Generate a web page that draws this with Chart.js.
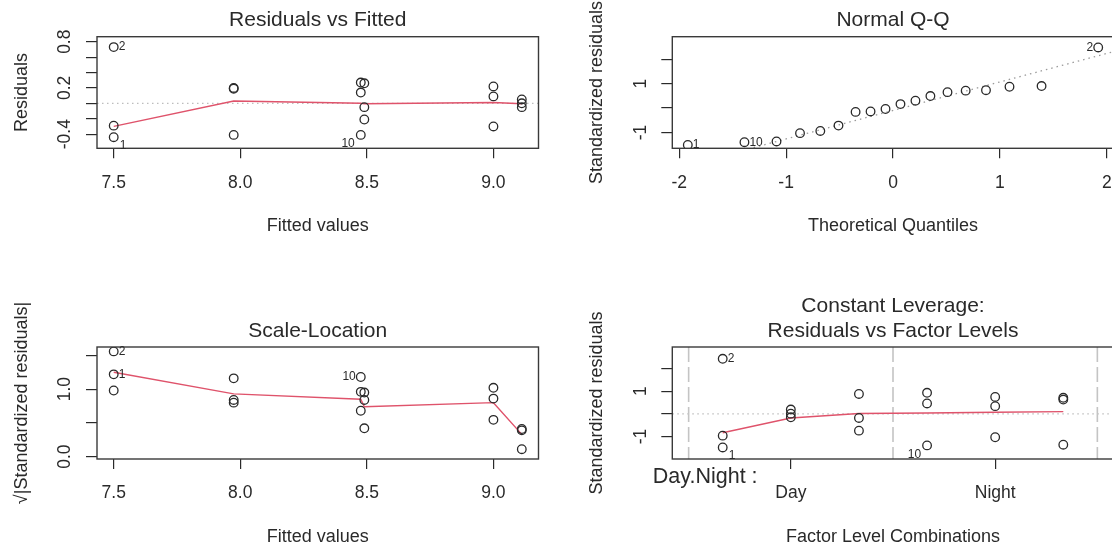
<!DOCTYPE html>
<html>
<head>
<meta charset="utf-8">
<script src="https://cdn.jsdelivr.net/npm/chart.js@4.4.1/dist/chart.umd.min.js"></script>
<style>
  html, body { margin: 0; padding: 0; background: #fff; overflow: hidden; width: 1112px; height: 550px; }
  canvas { position: absolute; }
</style>
</head>
<body>
<canvas id="resFit" width="556" height="290" style="left:0;top:0"></canvas>
<canvas id="qq" width="564" height="290" style="left:556px;top:0"></canvas>
<canvas id="scaleLoc" width="556" height="270" style="left:0;top:280px"></canvas>
<canvas id="factorLev" width="564" height="270" style="left:556px;top:280px"></canvas>
<script>
// ---- data ----
// one entry per observation (18), grouped by fitted value
const fitted = [7.5, 7.5, 7.5, 7.974, 7.974, 7.974, 8.476, 8.476, 8.476, 8.49, 8.49, 8.49, 9.0, 9.0, 9.0, 9.112, 9.112, 9.112];
const residuals = [0.73, -0.29, -0.44, 0.20, 0.19, -0.41, 0.27, 0.14, -0.41, 0.26, -0.05, -0.21, 0.22, 0.09, -0.30, 0.05, 0.00, -0.05];
const sqrtAbsStdResid = [1.56, 0.98, 1.22, 0.84, 0.80, 1.16, 0.96, 0.68, 1.18, 0.95, 0.42, 0.84, 0.86, 0.545, 1.02, 0.41, 0.11, 0.39];
const factorPos = [0, 0, 0, 5, 5, 5, 3, 3, 3, 2, 2, 2, 4, 4, 4, 1, 1, 1];
const stdResid = [2.43, -0.96, -1.48, 0.71, 0.63, -1.36, 0.93, 0.46, -1.39, 0.88, -0.18, -0.74, 0.75, 0.34, -1.03, 0.19, 0.01, -0.15];
const obsIds = [[0, '2'], [2, '1'], [8, '10']];

// smoother lines
const smoothX = [7.5, 7.974, 8.476, 8.49, 9.0, 9.112];
const smoothResid = [-0.30, 0.03, 0.0, -0.005, 0.01, -0.005];
const smoothSqrt = [1.25, 0.93, 0.85, 0.74, 0.80, 0.33];
const factorSmoothX = [0, 1, 2, 3, 4, 5];
const factorSmoothY = [-0.83, -0.18, 0.02, 0.04, 0.07, 0.10];

// normal Q-Q (sorted)
const theoQuantiles = [-1.92, -1.39, -1.09, -0.87, -0.68, -0.51, -0.35, -0.21, -0.07, 0.07, 0.21, 0.35, 0.51, 0.68, 0.87, 1.09, 1.39, 1.92];
const qqSample = [-1.51, -1.40, -1.37, -1.03, -0.94, -0.72, -0.16, -0.14, -0.04, 0.16, 0.30, 0.49, 0.65, 0.71, 0.73, 0.87, 0.90, 2.48];
const qqIds = [[0, '1'], [1, '10'], [17, '2']];
const qqLineX = [-2.1, 2.1];
const qqLineY = [-2.55, 2.35];

// axes
const fittedTicks = [7.5, 8.0, 8.5, 9.0];
const fittedTickLabels = ['7.5', '8.0', '8.5', '9.0'];
const residTicks = [-0.4, -0.2, 0, 0.2, 0.4, 0.6, 0.8];
const residTickLabels = ['-0.4', '', '', '0.2', '', '', '0.8'];
const quantTicks = [-2, -1, 0, 1, 2];
const quantTickLabels = ['-2', '-1', '0', '1', '2'];
const stdTicks = [-1, 0, 1, 2];
const stdTickLabels = ['-1', '', '1', ''];
const sqrtTicks = [0, 0.5, 1.0, 1.5];
const sqrtTickLabels = ['0.0', '', '1.0', ''];
const factorTicks = [1, 4];
const factorTickLabels = ['Day', 'Night'];
const factorDividers = [-0.5, 2.5, 5.5];

const FONT = '"Liberation Sans", Arial, Helvetica, sans-serif';
const INK = '#2a2a2a';
const RED = '#DF536B';

function zeroSize(s) {
    if (s.isHorizontal()) s.height = 0; else s.width = 0;
    s.paddingLeft = s.paddingRight = s.paddingTop = s.paddingBottom = 0;
}

// titles, axis titles, tick labels, id labels, reference lines, box
const rPlot = {
    id: 'rPlot',
    beforeDatasetsDraw(chart, args, p) {
        const ctx = chart.ctx, a = chart.chartArea;
        const sx = chart.scales.x, sy = chart.scales.y;
        ctx.save();
        ctx.lineWidth = 1.2;
        if (p.hZero) {
            ctx.strokeStyle = '#bdbdbd';
            ctx.setLineDash([1.5, 3.5]);
            const y = sy.getPixelForValue(0);
            ctx.beginPath(); ctx.moveTo(a.left, y); ctx.lineTo(a.right, y); ctx.stroke();
        }
        if (p.vLines) {
            ctx.strokeStyle = '#c4c4c4';
            ctx.lineWidth = 1.6;
            ctx.setLineDash([15, 5]);
            p.vLines.forEach(v => {
                const x = sx.getPixelForValue(v);
                ctx.beginPath(); ctx.moveTo(x, a.top); ctx.lineTo(x, a.bottom); ctx.stroke();
            });
        }
        ctx.restore();
    },
    afterDraw(chart, args, p) {
        const ctx = chart.ctx, a = chart.chartArea;
        const sx = chart.scales.x, sy = chart.scales.y;
        const cx = (a.left + a.right) / 2, cy = (a.top + a.bottom) / 2;
        ctx.save();
        // box
        ctx.strokeStyle = '#3a3a3a';
        ctx.lineWidth = 1.4;
        ctx.strokeRect(a.left, a.top, a.right - a.left, a.bottom - a.top);
        ctx.fillStyle = INK;
        // title
        ctx.textAlign = 'center';
        ctx.textBaseline = 'middle';
        ctx.font = '21px ' + FONT;
        p.title.forEach((t, i) => ctx.fillText(t, cx, a.top - 16 - (p.title.length - 1 - i) * 25));
        // x title
        ctx.font = '18px ' + FONT;
        ctx.fillText(p.xTitle, cx, a.bottom + 78);
        // y title + y tick labels (rotated like R)
        ctx.save();
        ctx.translate(a.left - 75, cy);
        ctx.rotate(-Math.PI / 2);
        ctx.fillText(p.yTitle, 0, 0);
        ctx.restore();
        ctx.font = '17.5px ' + FONT;
        p.xTicks.forEach((v, i) => {
            ctx.fillText(p.xTickLabels[i], sx.getPixelForValue(v), a.bottom + 34.5);
        });
        p.yTicks.forEach((v, i) => {
            if (!p.yTickLabels[i]) return;
            ctx.save();
            ctx.translate(a.left - 31.5, sy.getPixelForValue(v));
            ctx.rotate(-Math.PI / 2);
            ctx.fillText(p.yTickLabels[i], 0, 0);
            ctx.restore();
        });
        // point id labels
        ctx.font = '12px ' + FONT;
        p.ids.forEach(([i, txt], k) => {
            const side = p.idSides[k];
            const x = sx.getPixelForValue(p.x[i]), y = sy.getPixelForValue(p.y[i]);
            const off = { r: [5, 0, 'left'], br: [6, 8, 'left'], bl: [-6, 9, 'right'], l: [-5, 0, 'right'] }[side];
            ctx.textAlign = off[2];
            ctx.fillText(txt, x + off[0], y + off[1]);
        });
        if (p.factorName) {
            ctx.font = '21.5px ' + FONT;
            ctx.textAlign = 'left';
            ctx.fillText(p.factorName, a.left - 19.5, a.bottom + 18);
        }
        ctx.restore();
    }
};

function makePanel(id, p) {
    const datasets = [{
        type: 'scatter',
        data: p.x.map((v, i) => ({ x: v, y: p.y[i] })),
        pointRadius: 4.3,
        pointBorderWidth: 1.3,
        pointBorderColor: INK,
        pointBackgroundColor: 'rgba(0,0,0,0)',
        order: 1
    }];
    datasets.push({
        type: 'line',
        data: p.lineX.map((v, i) => ({ x: v, y: p.lineY[i] })),
        borderColor: p.lineColor,
        borderWidth: p.lineWidth,
        borderDash: p.lineDash,
        pointRadius: 0,
        tension: 0,
        fill: false,
        order: 2
    });
    return new Chart(document.getElementById(id), {
        type: 'scatter',
        data: { datasets },
        options: {
            responsive: false,
            animation: false,
            events: [],
            layout: { padding: p.pad },
            plugins: { legend: { display: false }, tooltip: { enabled: false }, rPlot: p },
            scales: {
                x: {
                    type: 'linear', min: p.xMin, max: p.xMax,
                    afterFit: zeroSize,
                    afterBuildTicks: s => { s.ticks = p.xTicks.map(v => ({ value: v })); },
                    grid: { drawOnChartArea: false, drawTicks: true, tickLength: 10, color: INK, lineWidth: 1.2 },
                    border: { display: false },
                    ticks: { display: false }
                },
                y: {
                    type: 'linear', min: p.yMin, max: p.yMax,
                    afterFit: zeroSize,
                    afterBuildTicks: s => { s.ticks = p.yTicks.map(v => ({ value: v })); },
                    grid: { drawOnChartArea: false, drawTicks: true, tickLength: 11, color: INK, lineWidth: 1.2 },
                    border: { display: false },
                    ticks: { display: false }
                }
            }
        },
        plugins: [rPlot]
    });
}

const padTopRow = { top: 36.7, bottom: 141.7 };
const padBottomRow = { top: 67, bottom: 91 };
const padLeftCol = { left: 97, right: 17.5 };
const padRightCol = { left: 116.3, right: 6.3 };

makePanel('resFit', {
    x: fitted, y: residuals, ids: obsIds, idSides: ['r', 'br', 'bl'],
    lineX: smoothX, lineY: smoothResid, lineColor: RED, lineWidth: 1.4, lineDash: [],
    xMin: 7.434, xMax: 9.178, yMin: -0.584, yMax: 0.865,
    xTicks: fittedTicks, xTickLabels: fittedTickLabels,
    yTicks: residTicks, yTickLabels: residTickLabels,
    hZero: true,
    title: ['Residuals vs Fitted'], xTitle: 'Fitted values', yTitle: 'Residuals',
    pad: Object.assign({}, padTopRow, padLeftCol)
});

makePanel('qq', {
    x: theoQuantiles, y: qqSample, ids: qqIds, idSides: ['r', 'r', 'l'],
    lineX: qqLineX, lineY: qqLineY, lineColor: '#9a9a9a', lineWidth: 1.3, lineDash: [1.5, 4],
    xMin: -2.065, xMax: 2.065, yMin: -1.65, yMax: 2.92,
    xTicks: quantTicks, xTickLabels: quantTickLabels,
    yTicks: stdTicks, yTickLabels: stdTickLabels,
    title: ['Normal Q-Q'], xTitle: 'Theoretical Quantiles', yTitle: 'Standardized residuals',
    pad: Object.assign({}, padTopRow, padRightCol)
});

makePanel('scaleLoc', {
    x: fitted, y: sqrtAbsStdResid, ids: obsIds, idSides: ['r', 'r', 'l'],
    lineX: smoothX, lineY: smoothSqrt, lineColor: RED, lineWidth: 1.4, lineDash: [],
    xMin: 7.434, xMax: 9.178, yMin: -0.035, yMax: 1.625,
    xTicks: fittedTicks, xTickLabels: fittedTickLabels,
    yTicks: sqrtTicks, yTickLabels: sqrtTickLabels,
    title: ['Scale-Location'], xTitle: 'Fitted values', yTitle: '\u221A|Standardized residuals|',
    pad: Object.assign({}, padBottomRow, padLeftCol)
});

makePanel('factorLev', {
    x: factorPos, y: stdResid, ids: obsIds, idSides: ['r', 'br', 'bl'],
    lineX: factorSmoothX, lineY: factorSmoothY, lineColor: RED, lineWidth: 1.4, lineDash: [],
    xMin: -0.74, xMax: 5.74, yMin: -1.99, yMax: 2.95,
    xTicks: factorTicks, xTickLabels: factorTickLabels,
    yTicks: stdTicks, yTickLabels: stdTickLabels,
    hZero: true, vLines: factorDividers, factorName: 'Day.Night :',
    title: ['Constant Leverage:', 'Residuals vs Factor Levels'], xTitle: 'Factor Level Combinations', yTitle: 'Standardized residuals',
    pad: Object.assign({}, padBottomRow, padRightCol)
});
</script>
</body>
</html>
